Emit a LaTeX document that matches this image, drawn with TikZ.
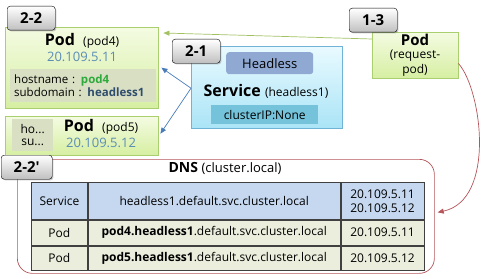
\documentclass[tikz,border=0pt]{standalone}
\usepackage{fontspec}
\setmainfont{Open Sans}
\usetikzlibrary{positioning,arrows.meta,shadows,calc}
\definecolor{podtop}{HTML}{F4FBE2}
\definecolor{podbot}{HTML}{D6EFA2}
\definecolor{podline}{HTML}{A9CF6E}
\definecolor{infofill}{HTML}{D9DFC3}
\definecolor{svctop}{HTML}{E9FAFF}
\definecolor{svcbot}{HTML}{AAE4F6}
\definecolor{svcline}{HTML}{6FB3D6}
\definecolor{hlfill}{HTML}{8FA9D3}
\definecolor{cipfill}{HTML}{74C3DB}
\definecolor{ipblue}{HTML}{5B8DB5}
\definecolor{hostgreen}{HTML}{2EAA3C}
\definecolor{subblue}{HTML}{2E4C6D}
\definecolor{arrgreen}{HTML}{A2C262}
\definecolor{arrblue}{HTML}{4A7DB8}
\definecolor{dnsred}{HTML}{B5545A}
\definecolor{hdrfill}{HTML}{C6D8F0}
\definecolor{rowfill}{HTML}{EBEEDC}

\begin{document}
\begin{tikzpicture}[x=1pt,y=-1pt,
  podbox/.style={draw=podline,top color=podtop,bottom color=podbot,anchor=north west,inner sep=0pt,
    drop shadow={shadow xshift=1pt,shadow yshift=-1pt,opacity=0.25}},
  svcbox/.style={draw=svcline,top color=svctop,bottom color=svcbot,anchor=north west,inner sep=0pt,
    drop shadow={shadow xshift=1pt,shadow yshift=-1pt,opacity=0.25}},
  badge/.style={draw=black,rounded corners=3pt,top color=white,bottom color=black!25,anchor=north west,
    inner sep=0pt,minimum width=48pt,minimum height=24pt,font=\fontsize{15}{15}\selectfont\bfseries,
    drop shadow={shadow xshift=1.2pt,shadow yshift=-1.2pt,opacity=0.4}},
  cell/.style={draw=black!75,line width=0.8pt,inner sep=0pt,font=\fontsize{12}{14}\selectfont,align=center},
  arr/.style={-{Triangle[length=6pt,width=5pt]},line width=0.7pt}
]
\useasboundingbox (0,0) rectangle (486,278);

% pod4
\node[podbox,minimum width=153pt,minimum height=81pt] (pod4) at (5,27) {};
\node (pod4t) at (82,41) {\fontsize{16}{16}\selectfont\bfseries Pod\ \ \normalfont\fontsize{12}{12}\selectfont(pod4)};
\node[text=ipblue,font=\fontsize{13}{13}\selectfont] (pod4ip) at (82,57) {20.109.5.11};
\node[fill=infofill,anchor=north west,minimum width=146pt,minimum height=33pt,text width=138pt,inner sep=0pt,
  align=left,font=\fontsize{11.5}{12.5}\selectfont] (pod4info) at (10,69)
  {hostname : \textcolor{hostgreen}{\bfseries pod4}\\subdomain : \textcolor{subblue}{\bfseries headless1}};
\node[badge] (b22) at (7,6) {2-2};

% pod5
\node[podbox,minimum width=153pt,minimum height=39pt] (pod5) at (5,116) {};
\node[fill=infofill,anchor=north west,minimum width=41pt,minimum height=32pt,inner sep=0pt,align=center,
  font=\fontsize{12}{12.5}\selectfont] (pod5info) at (12,119) {ho...\\su...};
\node (pod5t) at (101,127) {\fontsize{16}{16}\selectfont\bfseries Pod\ \ \normalfont\fontsize{12}{12}\selectfont(pod5)};
\node[text=ipblue,font=\fontsize{13}{13}\selectfont] (pod5ip) at (101,143) {20.109.5.12};

% headless service
\node[svcbox,minimum width=151pt,minimum height=82pt] (svc) at (191,46) {};
\node[fill=hlfill,rounded corners=3pt,anchor=north west,minimum width=87pt,minimum height=22pt,inner sep=0pt,
  font=\fontsize{13}{13}\selectfont] (hl) at (226,52) {Headless};
\node (svct) at (266,91) {\fontsize{16}{16}\selectfont\bfseries Service\ \normalfont\fontsize{12}{12}\selectfont(headless1)};
\node[fill=cipfill,anchor=north west,minimum width=107pt,minimum height=19pt,inner sep=0pt,
  font=\fontsize{12}{12}\selectfont] (cip) at (211,105) {clusterIP:None};
\node[badge] (b21) at (172,39) {2-1};

% request pod
\node[podbox,minimum width=86pt,minimum height=46pt] (reqpod) at (372,32) {};
\node[font=\fontsize{15}{15}\selectfont\bfseries,inner sep=0pt] (reqpodt) at (415,40) {Pod};
\node[align=center,inner sep=0pt,font=\fontsize{12}{14.5}\selectfont] (reqpodn) at (415,63) {(request-\\pod)};
\node[badge] (b13) at (349,8) {1-3};

% dns
\node[draw=dnsred,rounded corners=15pt,anchor=north west,minimum width=417pt,minimum height=114pt,
  inner sep=0pt,line width=0.7pt] (dns) at (17,159) {};
\node (dnst) at (225,168) {\fontsize{14}{14}\selectfont\bfseries DNS\ \normalfont\fontsize{13}{13}\selectfont(cluster.local)};
\node[badge,minimum width=51pt] (b22b) at (1,155) {2-2\textquotesingle};

\node[fill=black!60,anchor=north west,minimum width=391pt,minimum height=86pt,inner sep=0pt] (tblshadow) at (33,184) {};
\node[cell,fill=hdrfill,anchor=north west,minimum width=56pt,minimum height=37pt] (c11) at (31,182) {Service};
\node[cell,fill=hdrfill,minimum width=252pt,minimum height=37pt,right=0pt of c11] (c12) {headless1.default.svc.cluster.local};
\node[cell,fill=hdrfill,minimum width=83pt,minimum height=37pt,right=0pt of c12] (c13) {20.109.5.11\\20.109.5.12};
\node[cell,fill=rowfill,minimum width=56pt,minimum height=25pt,below=0pt of c11] (c21) {Pod};
\node[cell,fill=rowfill,minimum width=252pt,minimum height=25pt,below=0pt of c12] (c22) {\textbf{pod4.headless1}.default.svc.cluster.local};
\node[cell,fill=rowfill,minimum width=83pt,minimum height=25pt,below=0pt of c13] (c23) {20.109.5.11};
\node[cell,fill=rowfill,minimum width=56pt,minimum height=24pt,below=0pt of c21] (c31) {Pod};
\node[cell,fill=rowfill,minimum width=252pt,minimum height=24pt,below=0pt of c22] (c32) {\textbf{pod5.headless1}.default.svc.cluster.local};
\node[cell,fill=rowfill,minimum width=83pt,minimum height=24pt,below=0pt of c23] (c33) {20.109.5.12};

% arrows
\draw[arr,arrgreen] ([yshift=-7pt]reqpod.north west) -- ([xshift=5pt,yshift=-6pt]pod4.north east);
\draw[arr,arrblue] ([yshift=-1pt]svc.west) -- ([xshift=3pt]pod4.east);
\draw[arr,arrblue] ([yshift=-1pt]svc.west) -- ([xshift=2pt,yshift=2pt]pod5.east);
\draw[arr,dnsred] ([yshift=15pt]reqpod.south east) .. controls (482,90) and (496,200) .. ([xshift=3pt,yshift=4pt]dns.east);
\end{tikzpicture}
\end{document}
